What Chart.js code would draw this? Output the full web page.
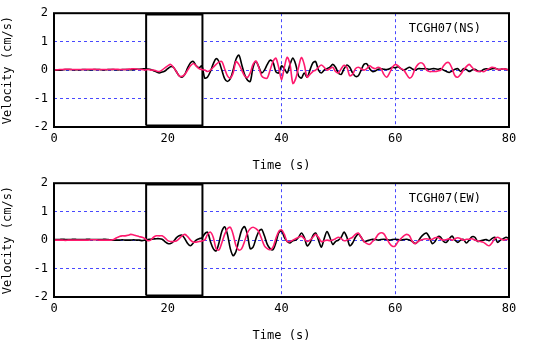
<!DOCTYPE html>
<html>
<head>
<meta charset="utf-8">
<script src="https://cdn.jsdelivr.net/npm/chart.js@4/dist/chart.umd.min.js"></script>
<style>
  html, body { margin: 0; padding: 0; background: #fff; }
  .panel { position: relative; width: 536px; height: 170px; }
</style>
</head>
<body>
<div class="panel"><canvas id="chart-ns" width="536" height="170"></canvas></div>
<div class="panel"><canvas id="chart-ew" width="536" height="170"></canvas></div>
<script>
(function () {
	'use strict';

	// velocity traces, sampled every 0.5 s from 0 to 80 s (one row = 5 s)
	const step = 0.5;

	const nsBlack = [
		0, 0, 0, 0.01, 0.02, 0.02, 0.02, 0.01, 0.01, 0.01,
		0.02, 0.02, 0.01, 0.01, 0.02, 0.02, 0.02, 0.01, 0.01, 0.02,
		0.02, 0.02, 0.01, 0.01, 0.02, 0.02, 0.02, 0.01, 0.02, 0.03,
		0.03, 0.04, 0.05, 0.04, 0.02, -0.02, -0.06, -0.1, -0.07, -0.03,
		0.05, 0.12, 0.1, -0.05, -0.2, -0.25, -0.15, 0.08, 0.26, 0.3,
		0.15, 0.08, 0.15, -0.28, -0.24, -0.05, 0.22, 0.4, 0.3, 0.0,
		-0.3, -0.4, -0.3, 0.0, 0.38, 0.53, 0.2, -0.15, -0.35, -0.4,
		0.1, 0.3, 0.12, -0.1, 0.0, 0.2, 0.35, 0.28, -0.05, -0.1,
		0.15, 0.05, -0.1, 0.2, 0.42, 0.2, -0.2, -0.28, -0.1, -0.25,
		0.0, 0.25, 0.3, 0.0, -0.1, 0.0, 0.05, 0.1, 0.2, 0.1,
		-0.1, -0.15, 0.05, 0.18, 0.1, -0.1, -0.22, -0.2, 0.0, 0.2,
		0.22, 0.05, -0.05, -0.03, 0.03, 0.05, 0.03, 0.02, 0.05, 0.1,
		0.08, 0.12, 0.05, 0.0, 0.05, 0.1, 0.04, 0.0, 0.05, 0.05,
		0.05, 0.05, 0.03, 0.05, 0.05, 0.03, 0.05, 0.0, -0.05, -0.08,
		-0.03, 0.03, 0.05, -0.05, 0.05, 0.02, -0.05, 0.0, 0.03, -0.03,
		-0.05, 0.02, 0.05, 0.02, 0.05, 0.06, 0.03, 0.02, 0.05, 0.03,
		0.0
	];

	const nsRed = [
		0, 0.01, 0.02, 0.02, 0.03, 0.03, 0.02, 0.02, 0.02, 0.02,
		0.02, 0.02, 0.03, 0.03, 0.03, 0.02, 0.02, 0.02, 0.02, 0.02,
		0.02, 0.03, 0.03, 0.02, 0.02, 0.02, 0.03, 0.04, 0.05, 0.04,
		0.02, 0.02, 0.0, 0.02, 0.0, 0.0, -0.03, -0.05, 0.0, 0.08,
		0.15, 0.2, 0.1, -0.05, -0.2, -0.22, -0.15, 0.0, 0.15, 0.23,
		0.15, 0.05, 0.02, 0.0, -0.05, 0.0, 0.1, 0.2, 0.28, 0.3,
		0.05, -0.2, -0.28, -0.1, 0.3, 0.2, 0.0, -0.2, -0.26, -0.1,
		0.2, 0.32, 0.1, -0.2, -0.28, -0.28, 0.0, 0.3, 0.42, 0.1,
		-0.34, 0.1, 0.45, 0.2, -0.47, -0.3, 0.1, 0.44, 0.2, -0.25,
		-0.15, -0.05, 0.0, 0.1, 0.18, 0.1, 0.0, 0.05, 0.1, -0.05,
		-0.1, 0.05, 0.17, 0.1, -0.2, -0.15, 0.05, 0.1, 0.05, 0.0,
		0.05, 0.15, 0.08, 0.05, 0.1, 0.05, -0.15, -0.25, -0.1, 0.1,
		0.2, 0.15, 0.05, 0.0, -0.15, -0.28, -0.2, 0.05, 0.2, 0.26,
		0.2, 0.0, -0.05, -0.05, -0.05, -0.03, 0.0, 0.15, 0.26, 0.25,
		0.05, -0.2, -0.25, -0.15, 0.0, 0.12, 0.2, 0.1, 0.0, -0.05,
		-0.03, -0.06, 0.0, 0.05, 0.1, 0.08, 0.02, 0.03, 0.05, 0.03,
		0.0
	];

	const ewBlack = [
		0.02, 0.02, 0.02, 0.03, 0.02, 0.02, 0.02, 0.03, 0.02, 0.02,
		0.02, 0.02, 0.03, 0.02, 0.02, 0.02, 0.02, 0.02, 0.03, 0.02,
		0.01, 0.0, 0.0, 0.0, 0.01, 0.0, 0.0, 0.0, 0.01, 0.0,
		0.0, -0.02, 0.0, 0.02, 0.03, 0.04, 0.05, 0.05, 0.03, -0.05,
		-0.12, -0.12, -0.05, 0.08, 0.15, 0.17, 0.05, -0.12, -0.2, -0.1,
		0.0, 0.05, 0.08, 0.22, 0.28, -0.05, -0.3, -0.38, -0.1, 0.3,
		0.47, 0.2, -0.3, -0.55, -0.4, 0.0, 0.35, 0.47, 0.2, -0.3,
		-0.25, 0.05, 0.3, 0.38, 0.15, -0.15, -0.3, -0.34, -0.1, 0.25,
		0.33, 0.1, -0.05, -0.1, -0.02, 0.0, 0.1, 0.25, 0.1, -0.2,
		-0.1, 0.15, 0.25, 0.0, -0.25, 0.05, 0.3, 0.1, -0.15, -0.05,
		0.0, 0.1, 0.28, 0.1, -0.2, -0.1, 0.1, 0.22, 0.1, -0.05,
		-0.03, 0.0, 0.03, 0.02, 0.0, 0.02, 0.03, 0.02, 0.0, 0.02,
		0.03, 0.02, 0.0, 0.02, 0.03, 0.0, -0.05, -0.12, -0.05, 0.1,
		0.2, 0.25, 0.1, -0.12, -0.05, 0.12, 0.1, -0.05, -0.08, 0.05,
		0.14, 0.0, -0.08, 0.0, 0.02, -0.1, 0.0, 0.12, 0.1, -0.05,
		-0.02, 0.0, 0.02, -0.02, 0.05, 0.1, -0.08, 0.0, 0.05, 0.1,
		0.05
	];

	const ewRed = [
		0, 0, 0, 0, -0.01, 0, 0, 0, 0, 0,
		0, 0, 0, 0.01, 0.01, 0.01, 0.0, 0.0, 0.0, 0.0,
		0.0, 0.02, 0.08, 0.13, 0.15, 0.15, 0.17, 0.2, 0.18, 0.15,
		0.12, 0.1, 0.05, -0.02, 0.0, 0.1, 0.15, 0.15, 0.15, 0.08,
		-0.02, -0.05, -0.05, -0.03, 0.05, 0.15, 0.2, 0.12, 0.0, -0.07,
		-0.07, -0.05, -0.03, 0.0, 0.2, 0.28, 0.1, -0.3, -0.35, -0.1,
		0.2, 0.4, 0.45, 0.2, -0.2, -0.35, -0.3, -0.05, 0.25, 0.4,
		0.45, 0.4, 0.3, 0.05, -0.2, -0.3, -0.34, -0.25, 0.05, 0.3,
		0.36, 0.2, -0.05, -0.05, 0.0, 0.05, 0.1, 0.14, 0.05, -0.05,
		0.0, 0.1, 0.2, 0.1, -0.05, -0.03, 0.0, -0.02, 0.0, 0.05,
		0.1, 0.05, -0.02, 0.0, 0.05, 0.1, 0.2, 0.25, 0.1, -0.05,
		-0.12, -0.15, -0.05, 0.05, 0.2, 0.26, 0.22, 0.05, -0.12, -0.22,
		-0.2, -0.05, 0.05, 0.15, 0.2, 0.15, -0.05, -0.13, -0.05, 0.0,
		0.03, 0.05, 0.02, 0.03, 0.08, 0.1, 0.03, 0.0, 0.02, 0.05,
		0.0, 0.05, 0.08, 0.05, 0.0, 0.03, 0.03, 0.05, 0.0, -0.03,
		-0.05, -0.08, -0.15, -0.2, -0.1, 0.05, 0.1, 0.05, 0.0, 0.02,
		0.02
	];

	// analysis window marked on both traces
	const boxTimes = [16.2, 26.1];
	const boxLevels = [-1.95, 1.95];

	const panelNames = ['TCGH07(NS)', 'TCGH07(EW)'];
	const xTitle = 'Time (s)';
	const yTitle = 'Velocity (cm/s)';

	const FONT = '"DejaVu Sans Mono", "Liberation Mono", monospace';
	const GRID_BLUE = '#4848ff';
	const RED = '#ff1a6e';

	function toPoints(values) {
		return values.map(function (v, i) {
			return { x: i * step, y: v };
		});
	}

	function boxPoints() {
		return [
			{ x: boxTimes[0], y: boxLevels[0] },
			{ x: boxTimes[0], y: boxLevels[1] },
			{ x: boxTimes[1], y: boxLevels[1] },
			{ x: boxTimes[1], y: boxLevels[0] },
			{ x: boxTimes[0], y: boxLevels[0] }
		];
	}

	// frame around the plot area plus the station label in the corner
	const framePlugin = {
		id: 'frame',
		afterDatasetsDraw(chart, args, opts) {
			const ctx = chart.ctx;
			const a = chart.chartArea;
			ctx.save();
			ctx.strokeStyle = '#000';
			ctx.lineWidth = 2;
			ctx.strokeRect(a.left, a.top, a.right - a.left, a.bottom - a.top);
			ctx.font = '12px ' + FONT;
			ctx.fillStyle = '#000';
			ctx.textAlign = 'right';
			ctx.textBaseline = 'middle';
			ctx.fillText(opts.text, a.right - 28, a.top + 16);
			ctx.restore();
		}
	};

	function makePanel(canvasId, black, red, name) {
		return new Chart(document.getElementById(canvasId), {
			type: 'line',
			data: {
				datasets: [
					{
						data: toPoints(red),
						borderColor: RED,
						borderWidth: 1.6,
						pointRadius: 0,
						tension: 0.3,
						order: 0
					},
					{
						data: toPoints(black),
						borderColor: '#000',
						borderWidth: 1.6,
						pointRadius: 0,
						tension: 0.3,
						order: 1
					},
					{
						data: boxPoints(),
						borderColor: '#000',
						backgroundColor: '#fff',
						borderWidth: 2,
						pointRadius: 0,
						tension: 0,
						fill: 'shape',
						order: 2
					}
				]
			},
			options: {
				responsive: false,
				animation: false,
				events: [],
				layout: {
					padding: { left: 0, right: 27, top: 11, bottom: 0 }
				},
				plugins: {
					legend: { display: false },
					tooltip: { enabled: false },
					frame: { text: name }
				},
				scales: {
					x: {
						type: 'linear',
						min: 0,
						max: 80,
						afterFit: function (scale) { scale.height = 43; },
						ticks: {
							stepSize: 20,
							color: '#000',
							padding: 5,
							maxRotation: 0,
							font: { family: FONT, size: 12 }
						},
						grid: {
							color: GRID_BLUE,
							lineWidth: 1,
							drawTicks: false
						},
						border: { display: false, dash: [3, 3] },
						title: {
							display: true,
							text: xTitle,
							color: '#000',
							padding: { top: 0, bottom: -2 },
							font: { family: FONT, size: 12, lineHeight: 1 }
						}
					},
					y: {
						type: 'linear',
						min: -2,
						max: 2,
						afterFit: function (scale) { scale.width = 54; },
						ticks: {
							stepSize: 1,
							color: '#000',
							padding: 6,
							font: { family: FONT, size: 12 }
						},
						grid: {
							color: GRID_BLUE,
							lineWidth: 1,
							drawTicks: false
						},
						border: { display: false, dash: [3, 3] },
						title: {
							display: true,
							text: yTitle,
							color: '#000',
							padding: { top: 2, bottom: 0 },
							font: { family: FONT, size: 12, lineHeight: 1 }
						}
					}
				}
			},
			plugins: [framePlugin]
		});
	}

	makePanel('chart-ns', nsBlack, nsRed, panelNames[0]);
	makePanel('chart-ew', ewBlack, ewRed, panelNames[1]);
})();
</script>
</body>
</html>
